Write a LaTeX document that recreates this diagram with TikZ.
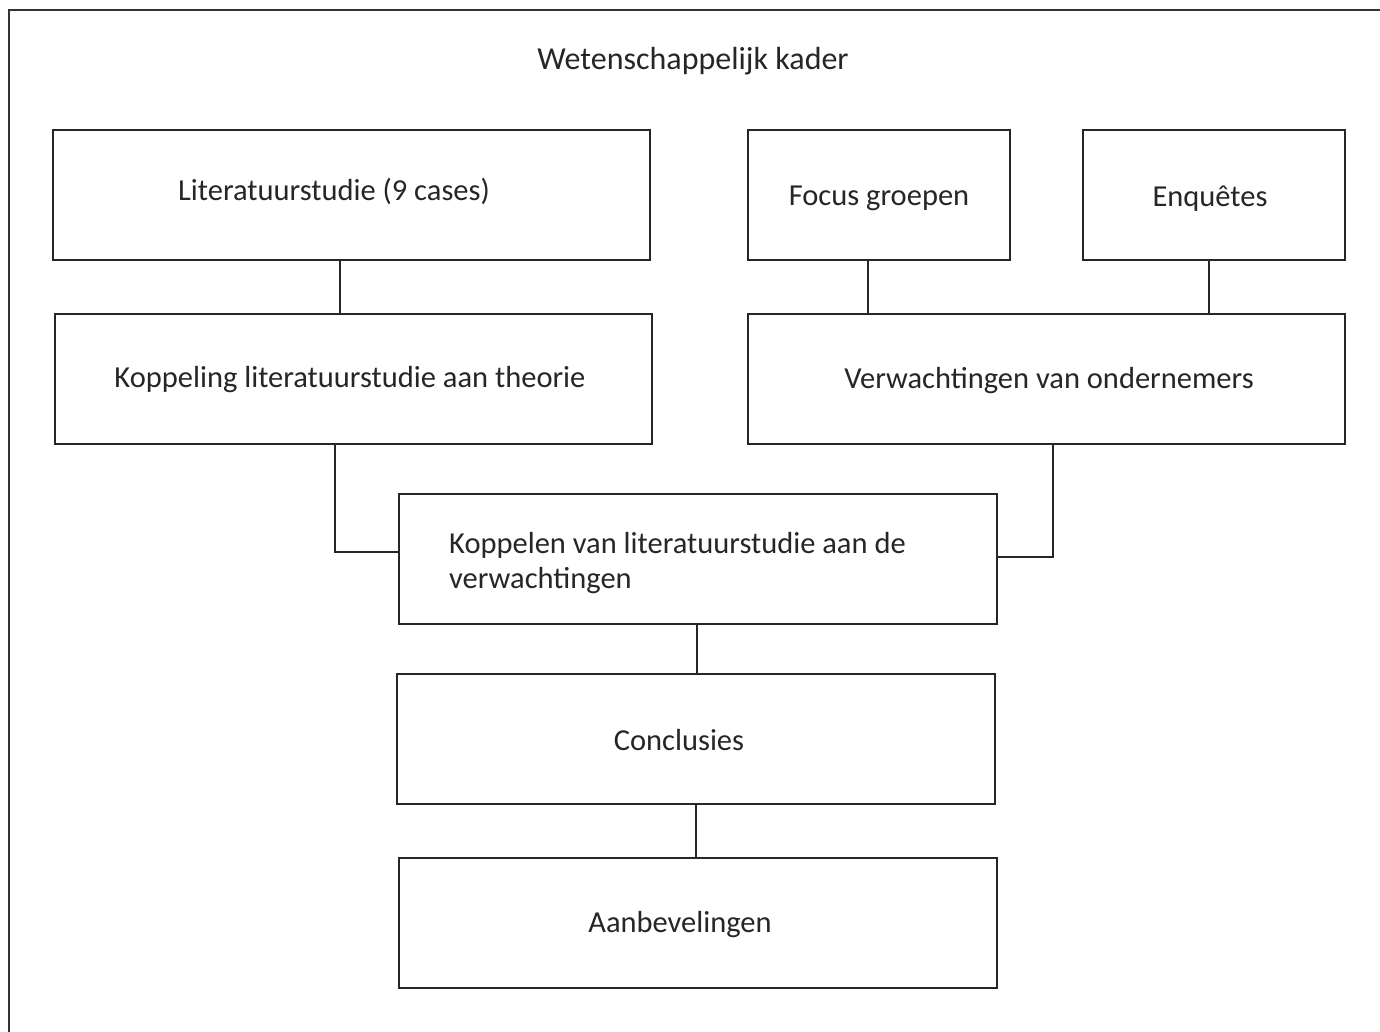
\documentclass[tikz,border=0pt]{standalone}
\usepackage{fontspec}
\setmainfont{Carlito}
\begin{document}
\begin{tikzpicture}[x=1pt,y=-1pt,
  box/.style={draw=black!85,line width=1.8pt,rectangle,inner sep=0pt,outer sep=0pt},
  txt/.style={inner sep=0pt,anchor=base,text=black!85,font=\fontsize{30.5}{35}\selectfont},
  conn/.style={draw=black!85,line width=1.8pt}]
\useasboundingbox (0,0) rectangle (1380,1032);
\clip (0,0) rectangle (1380,1032);
\fill[white] (0,0) rectangle (1380,1032);
% outer frame (open to right and bottom)
\draw[black!80,line width=2pt] (9,1040) -- (9,10) -- (1390,10);
\node[txt,font=\fontsize{32}{36}\selectfont] (title) at (693,70) {Wetenschappelijk kader};
% boxes
\node[box,minimum width=597pt,minimum height=130pt] (lit) at (351.5,195) {};
\node[box,minimum width=262pt,minimum height=130pt] (focus) at (879,195) {};
\node[box,minimum width=262pt,minimum height=130pt] (enq) at (1214,195) {};
\node[box,minimum width=597pt,minimum height=130pt] (kop) at (353.5,379) {};
\node[box,minimum width=597pt,minimum height=130pt] (verw) at (1046.5,379) {};
\node[box,minimum width=598pt,minimum height=130pt] (koppelen) at (698,559) {};
\node[box,minimum width=598pt,minimum height=130pt] (concl) at (696,739) {};
\node[box,minimum width=598pt,minimum height=130pt] (aanb) at (698,923) {};
% texts
\node[txt] (litT) at (334,201) {Literatuurstudie (9 cases)};
\node[txt] (focusT) at (879,206) {Focus groepen};
\node[txt] (enqT) at (1210,207) {Enquêtes};
\node[txt] (kopT) at (350,387) {Koppeling literatuurstudie aan theorie};
\node[txt] (verwT) at (1049,388) {Verwachtingen van ondernemers};
\node[txt,anchor=base west] (koppelenT1) at (449,553) {Koppelen van literatuurstudie aan de};
\node[txt,anchor=base west] (koppelenT2) at (449,588) {verwachtingen};
\node[txt] (conclT) at (679,750) {Conclusies};
\node[txt] (aanbT) at (680,932) {Aanbevelingen};
% connectors
\draw[conn] (lit.south -| 340,0) -- (kop.north -| 340,0);
\draw[conn] (focus.south -| 868,0) -- (verw.north -| 868,0);
\draw[conn] (enq.south -| 1209,0) -- (verw.north -| 1209,0);
\draw[conn] (kop.south -| 335,0) |- (koppelen.west |- 0,552);
\draw[conn] (verw.south -| 1053,0) |- (koppelen.east |- 0,557);
\draw[conn] (koppelen.south -| 697,0) -- (concl.north -| 697,0);
\draw[conn] (concl.south -| 696,0) -- (aanb.north -| 696,0);
\end{tikzpicture}
\end{document}
